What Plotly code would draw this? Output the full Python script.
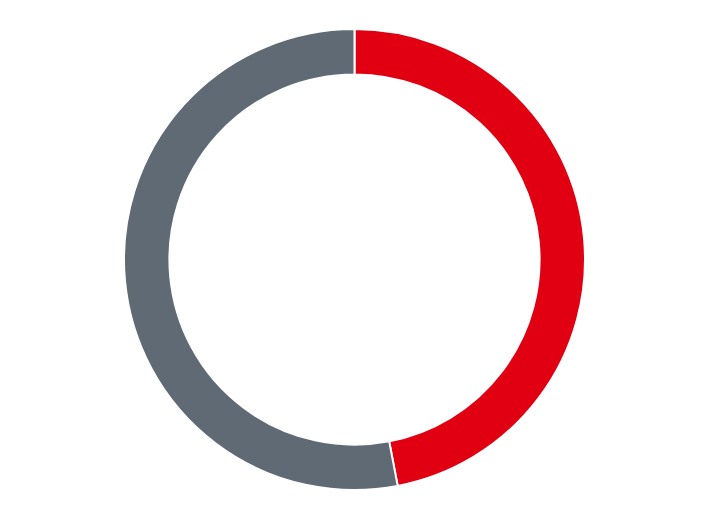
import plotly.graph_objects as go

labels = ["Red", "Gray"]
values = [47.0, 53.0]
colors = ["#E10012", "#5F6A74"]

fig = go.Figure(
    go.Pie(
        labels=labels,
        values=values,
        hole=0.803,
        sort=False,
        direction="clockwise",
        rotation=0,
        textinfo="none",
        hoverinfo="label+percent",
        marker=dict(colors=colors, line=dict(color="#ffffff", width=2)),
    )
)
fig.update_layout(
    width=704,
    height=528,
    showlegend=False,
    paper_bgcolor="#ffffff",
    plot_bgcolor="#ffffff",
    margin=dict(l=0, r=11, t=21, b=46),
)
fig.write_html("out.html")
